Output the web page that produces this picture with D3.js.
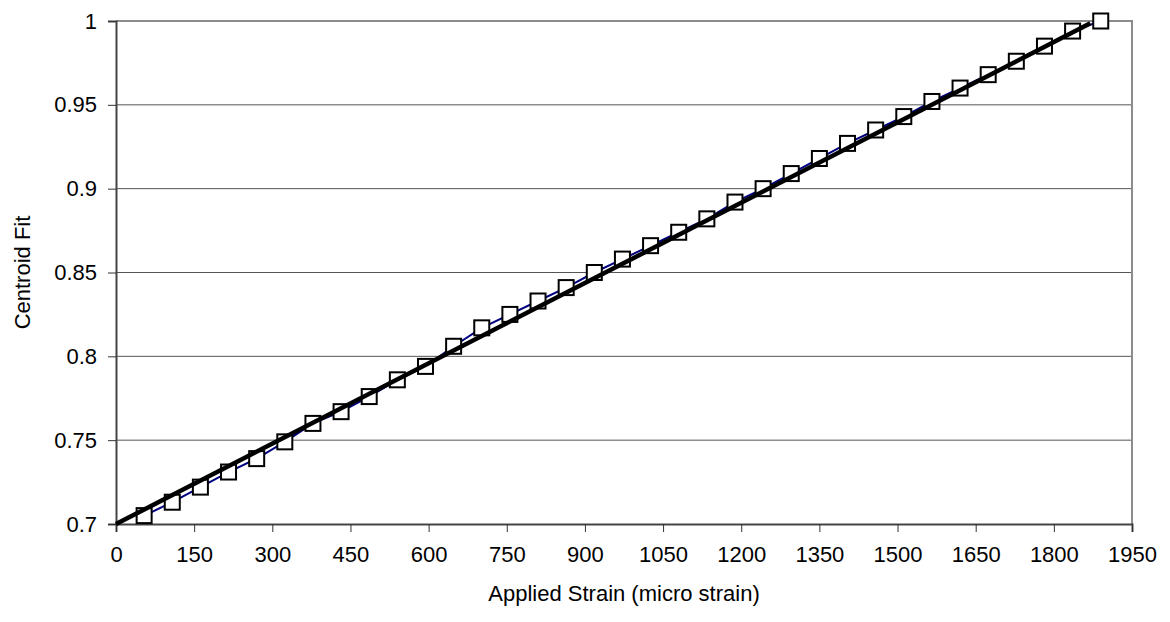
<!DOCTYPE html>
<html>
<head>
<meta charset="utf-8">
<script src="https://cdn.jsdelivr.net/npm/d3@7/dist/d3.min.js"></script>
<style>
  body { margin: 0; background: #fff; }
  text { font-family: "Liberation Sans", Arial, sans-serif; fill: #000; }
</style>
</head>
<body>
<div id="chart"></div>
<script>
// measured strain steps and centroid fit readings
var strain = [54, 108, 162, 216, 270, 324, 378, 432, 486, 540, 594, 648, 702, 756, 810,
              864, 918, 972, 1026, 1080, 1134, 1188, 1242, 1296, 1350, 1404, 1458, 1512,
              1566, 1620, 1674, 1728, 1782, 1836, 1890];
var centroid = [0.705, 0.713, 0.722, 0.731, 0.739, 0.749, 0.760, 0.767, 0.776, 0.786,
                0.794, 0.806, 0.817, 0.825, 0.833, 0.841, 0.850, 0.858, 0.866, 0.874,
                0.882, 0.892, 0.900, 0.909, 0.918, 0.927, 0.935, 0.943, 0.952, 0.960,
                0.968, 0.976, 0.985, 0.994, 1.000];
// straight fit line
var fitX = [0, 1870];
var fitY = [0.7, 0.9986];

var xTicks = d3.range(0, 1951, 150);
var yTicks = [0.7, 0.75, 0.8, 0.85, 0.9, 0.95, 1];

var width = 1170, height = 622;
var margin = {top: 21, right: 38, bottom: 98, left: 116};

var svg = d3.select("#chart").append("svg")
    .attr("width", width)
    .attr("height", height);

var x = d3.scaleLinear().domain([0, 1950]).range([margin.left, width - margin.right]);
var y = d3.scaleLinear().domain([0.7, 1]).range([height - margin.bottom, margin.top]);

// gridlines
svg.append("g")
    .selectAll("line")
    .data(yTicks.slice(1, -1))
    .enter().append("line")
    .attr("x1", x(0)).attr("x2", x(1950))
    .attr("y1", function (d) { return y(d); })
    .attr("y2", function (d) { return y(d); })
    .attr("stroke", "#555")
    .attr("stroke-width", 1);

// plot frame top/right
svg.append("path")
    .attr("d", "M" + x(0) + "," + y(1) + "H" + x(1950) + "V" + y(0.7))
    .attr("fill", "none")
    .attr("stroke", "#8c8c8c")
    .attr("stroke-width", 2);

var xAxis = svg.append("g")
    .attr("transform", "translate(0," + y(0.7) + ")")
    .call(d3.axisBottom(x).tickValues(xTicks).tickSize(8).tickPadding(14).tickFormat(d3.format("d")));

var yAxis = svg.append("g")
    .attr("transform", "translate(" + x(0) + ",0)")
    .call(d3.axisLeft(y).tickValues(yTicks).tickSize(8).tickPadding(11).tickFormat(function (d) { return String(d); }));

[xAxis, yAxis].forEach(function (g) {
    g.select(".domain").attr("stroke", "#444").attr("stroke-width", 2);
    g.selectAll(".tick line").attr("stroke", "#333");
    g.selectAll(".tick text").style("font-size", "22px").attr("fill", "#000");
});

// data line
var line = d3.line()
    .x(function (d, i) { return x(strain[i]); })
    .y(function (d) { return y(d); });

svg.append("path")
    .datum(centroid)
    .attr("d", line)
    .attr("fill", "none")
    .attr("stroke", "#000080")
    .attr("stroke-width", 2);

// markers
svg.append("g")
    .selectAll("rect")
    .data(centroid)
    .enter().append("rect")
    .attr("x", function (d, i) { return x(strain[i]) - 7.5; })
    .attr("y", function (d) { return y(d) - 7.5; })
    .attr("width", 15)
    .attr("height", 15)
    .attr("fill", "#fff")
    .attr("stroke", "#000")
    .attr("stroke-width", 2);

// fit line on top
var fitLine = d3.line()
    .x(function (d, i) { return x(fitX[i]); })
    .y(function (d) { return y(d); });

svg.append("path")
    .datum(fitY)
    .attr("d", fitLine)
    .attr("fill", "none")
    .attr("stroke", "#000")
    .attr("stroke-width", 4.5);

// axis titles
svg.append("text")
    .attr("x", (x(0) + x(1950)) / 2)
    .attr("y", 601)
    .attr("text-anchor", "middle")
    .style("font-size", "22px")
    .text("Applied Strain (micro strain)");

svg.append("text")
    .attr("transform", "translate(30," + (y(0.85)) + ") rotate(-90)")
    .attr("text-anchor", "middle")
    .style("font-size", "22px")
    .text("Centroid Fit");
</script>
</body>
</html>
